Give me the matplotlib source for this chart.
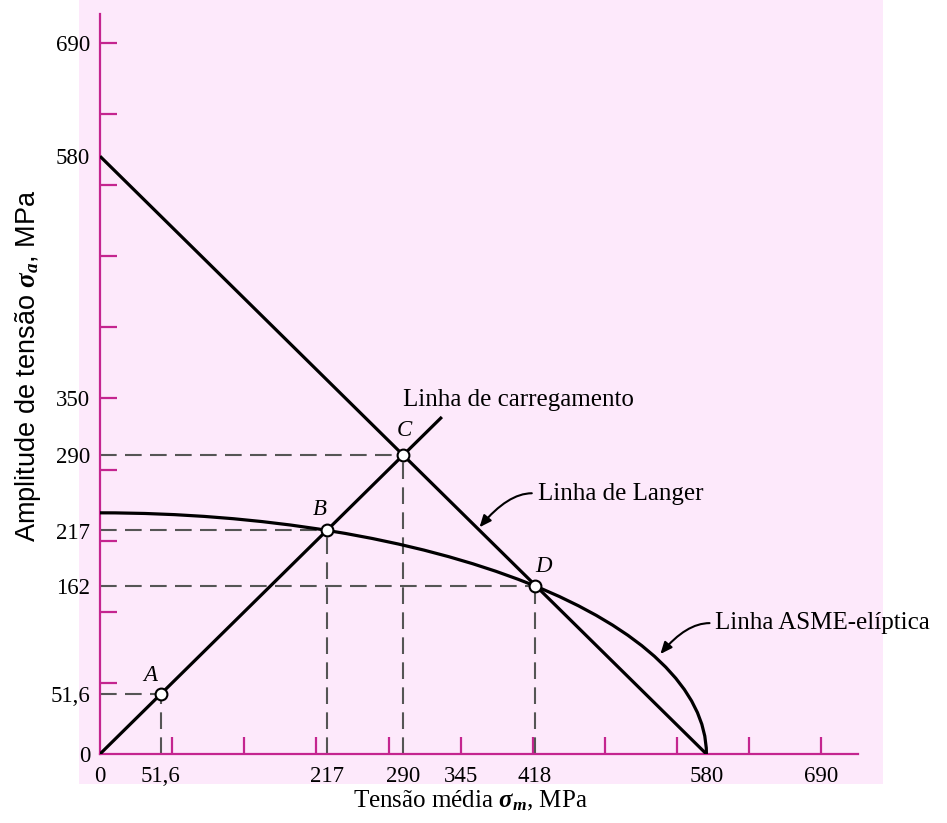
import matplotlib
matplotlib.use("Agg")
import matplotlib.pyplot as plt
from matplotlib.patches import Rectangle, Arc

# ---------------- data ----------------
sy = 580.0          # Langer intercepts (sigma_m axis and sigma_a axis)
se = 234.0          # ASME-elliptic sigma_a intercept
load_end = 327.0    # end of load line (sigma_a = sigma_m)

point_names = ["A", "B", "C", "D"]
point_sm = [58.0, 217.0, 290.0, 416.0]
point_sa = [58.0, 217.0, 290.0, 163.0]

x_label_pos = [0, 58.0, 217, 290, 345, 416, 580, 690]
x_label_txt = ["0", "51,6", "217", "290", "345", "418", "580", "690"]
y_label_pos = [0, 58.0, 163, 216, 290, 345, 580, 690]
y_label_txt = ["0", "51,6", "162", "217", "290", "350", "580", "690"]
tick_marks = [69 * i for i in range(1, 11)]

# ---------------- style ----------------
W, H = 947, 823
PINK = "#fde9fb"
MAG = "#c4258f"
DASH = "#555555"
SERIF = "Liberation Serif"

plt.rcParams["font.family"] = [SERIF, "DejaVu Sans"]
plt.rcParams["mathtext.fontset"] = "custom"
plt.rcParams["mathtext.it"] = "Liberation Serif:italic:bold"
plt.rcParams["mathtext.rm"] = "Liberation Serif"

fig = plt.figure(figsize=(W / 100, H / 100), dpi=100)
fig.patch.set_facecolor("white")
fig.patches.append(Rectangle((79 / W, 1 - 784 / H), (883 - 79) / W, 784 / H,
                             transform=fig.transFigure, facecolor=PINK,
                             edgecolor="none", zorder=-10))

ax = fig.add_axes([100 / W, 1 - 754 / H, 758 / W, 740 / H])
ax.set_facecolor("none")
ax.set_xlim(0, 725)
ax.set_ylim(0, 718)
for s in ["top", "right"]:
    ax.spines[s].set_visible(False)
for s in ["left", "bottom"]:
    ax.spines[s].set_color(MAG)
    ax.spines[s].set_linewidth(1.6)

ax.set_xticks(x_label_pos, x_label_txt)
ax.set_yticks(y_label_pos, y_label_txt)
ax.set_xticks(tick_marks, minor=True)
ax.set_yticks(tick_marks, minor=True)
ax.xaxis.remove_overlapping_locs = False
ax.yaxis.remove_overlapping_locs = False
ax.tick_params(which="major", length=0, labelsize=16.5)
ax.tick_params(axis="x", which="major", pad=9)
ax.tick_params(axis="y", which="major", pad=7)
ax.tick_params(which="minor", direction="in", length=12, width=1.6, color=MAG)

# Langer line
ax.plot([0, sy], [sy, 0], color="black", lw=2.3, zorder=3, solid_capstyle="butt")
# ASME-elliptic line
ax.add_patch(Arc((0, 0), 2 * sy, 2 * se, theta1=0, theta2=90,
                 color="black", lw=2.3, zorder=3))
# load line
ax.plot([0, load_end], [0, load_end], color="black", lw=2.3, zorder=3,
        solid_capstyle="butt")

# dashed projections
for sm, sa in zip(point_sm, point_sa):
    ax.plot([0, sm], [sa, sa], color=DASH, lw=1.5, dashes=(8, 4), zorder=2)
    ax.plot([sm, sm], [0, sa], color=DASH, lw=1.5, dashes=(8, 4), zorder=2)

ax.plot(point_sm, point_sa, "o", ms=8.5, mfc="white", mec="black", mew=1.5,
        zorder=5, linestyle="none")

offsets = {"A": (-10, 19), "B": (-7, 21), "C": (1, 25), "D": (9, 20)}
for n, sm, sa in zip(point_names, point_sm, point_sa):
    ax.annotate(n, (sm, sa), xytext=offsets[n], textcoords="offset pixels",
                ha="center", va="center", fontsize=16.5, style="italic")

# annotations
ax.text(290, 343, "Linha de carregamento", fontsize=18, ha="left", va="center")
ax.text(419, 252, "Linha de Langer", fontsize=18, ha="left", va="center")
ax.text(588, 127, "Linha ASME-elíptica", fontsize=18, ha="left", va="center")

arrow_kw = dict(arrowstyle="-|>,head_length=0.7,head_width=0.3", color="black",
                lw=1.5, shrinkA=0, shrinkB=0)
ax.annotate("", xy=(363, 220), xytext=(413, 253),
            arrowprops=dict(connectionstyle="angle3,angleA=0,angleB=50", **arrow_kw))
ax.annotate("", xy=(536, 97), xytext=(583, 127),
            arrowprops=dict(connectionstyle="angle3,angleA=0,angleB=50", **arrow_kw))

# axis titles
fig.text(470 / W, 1 - 801 / H, r"Tensão média $\sigma_m$, MPa", fontsize=18,
         ha="center", va="center")
fig.text(28 / W, 1 - 366 / H, r"Amplitude de tensão $\sigma_a$, MPa", fontsize=19.5,
         ha="center", va="center", rotation=90, family="Liberation Sans")

fig.savefig("out.png", dpi=100)
